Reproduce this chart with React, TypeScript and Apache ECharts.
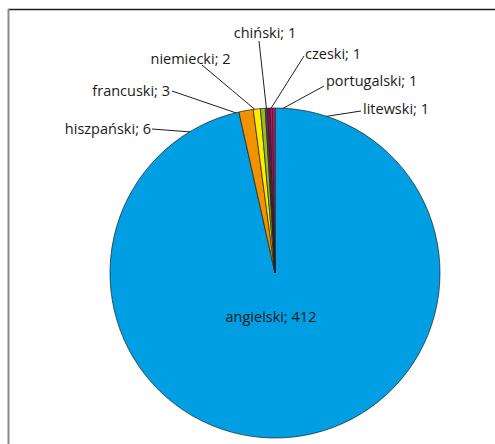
import React, { useEffect, useRef } from "react";
import * as echarts from "echarts";

// Languages and number of entries
const languages = [
  "angielski",
  "hiszpański",
  "francuski",
  "niemiecki",
  "chiński",
  "czeski",
  "portugalski",
  "litewski",
];
const counts = [412, 6, 3, 2, 1, 1, 1, 1];
const sliceColors = [
  "#009fe3",
  "#f39200",
  "#ffed00",
  "#95c11f",
  "#74287f",
  "#7a1f3d",
  "#c8137f",
  "#e6175f",
];

// Pie geometry
const CX = 275;
const CY = 273;
const R = 165;

// Label placement: text anchor [x, y], alignment, and where the leader line meets the text
const labelPos: [number, number][] = [
  [271, 316],
  [151, 128.5],
  [170, 90.5],
  [190.5, 58],
  [265, 32.5],
  [305, 53],
  [326, 80],
  [363, 108],
];
const labelAlign = ["center", "right", "right", "center", "center", "left", "left", "left"];
const leaderEnd: [number, number][] = [
  [0, 0],
  [152, 129],
  [172, 91],
  [202, 65],
  [259, 41],
  [304, 56],
  [324, 86],
  [361, 111],
];
// How deep into the slice each leader line reaches (fraction of radius)
const leaderDepth = [0, 0.84, 0.93, 0.95, 0.99, 0.98, 0.96, 0.9];

export default function App() {
  const ref = useRef<HTMLDivElement>(null);

  useEffect(() => {
    if (!ref.current) return;
    const chart = echarts.init(ref.current, undefined, { renderer: "svg" });
    const total = counts.reduce((a, b) => a + b, 0);
    const cumulative: number[] = [];
    counts.reduce((acc, v) => {
      cumulative.push(acc);
      return acc + v;
    }, 0);

    const data = languages.map((name, i) => ({
      name,
      value: counts[i],
      itemStyle: { color: sliceColors[i] },
      labelLine: { show: i !== 0 },
    }));

    chart.setOption({
      animation: false,
      graphic: [
        {
          type: "line",
          shape: { x1: 8, y1: 9.5, x2: 495, y2: 9.5 },
          style: { stroke: "#1d1d1b", lineWidth: 1.3 },
          silent: true,
        },
        {
          type: "line",
          shape: { x1: 8.5, y1: 9, x2: 8.5, y2: 444 },
          style: { stroke: "#8a8a8a", lineWidth: 2 },
          silent: true,
        },
      ],
      series: [
        {
          type: "pie",
          center: [CX, CY],
          radius: R,
          startAngle: 90,
          clockwise: true,
          avoidLabelOverlap: false,
          data,
          itemStyle: { borderColor: "#1d1d1b", borderWidth: 0.7 },
          label: {
            show: true,
            position: "outside",
            formatter: "{b}; {c}",
            color: "#1a1a18",
            fontFamily: "Open Sans",
            fontSize: 14.5,
          },
          labelLine: {
            show: true,
            lineStyle: { color: "#1d1d1b", width: 1 },
          },
          emphasis: { disabled: true },
          labelLayout: (params: any) => {
            const i = params.dataIndex;
            const [x, y] = labelPos[i];
            const out: any = {
              x,
              y,
              align: labelAlign[i],
              verticalAlign: "middle",
            };
            if (i !== 0) {
              const theta = (2 * Math.PI * (cumulative[i] + counts[i] / 2)) / total;
              const f = leaderDepth[i];
              const sx = CX + R * f * Math.sin(theta);
              const sy = CY - R * f * Math.cos(theta);
              const [ex, ey] = leaderEnd[i];
              out.labelLinePoints = [
                [sx, sy],
                [(sx + ex) / 2, (sy + ey) / 2],
                [ex, ey],
              ];
            }
            return out;
          },
        },
      ],
    });

    return () => chart.dispose();
  }, []);

  return (
    <div
      ref={ref}
      style={{ position: "absolute", left: 0, top: 0, width: 495, height: 444 }}
    />
  );
}
